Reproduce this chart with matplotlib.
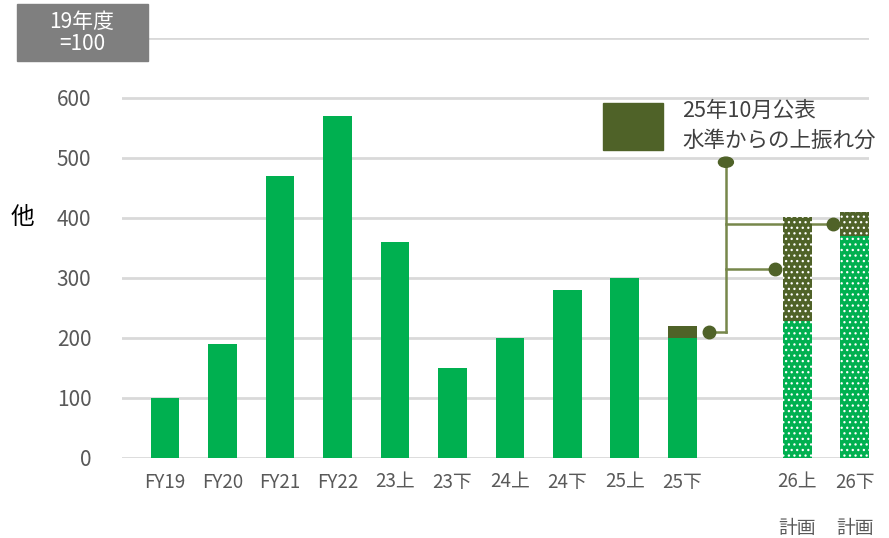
import matplotlib.pyplot as plt
from matplotlib.patches import Ellipse, Rectangle

plt.rcParams['font.family'] = ['Noto Sans CJK JP', 'DejaVu Sans']
plt.rcParams['hatch.linewidth'] = 0.9

labels = ['FY19', 'FY20', 'FY21', 'FY22', '23上', '23下', '24上', '24下', '25上', '25下', '26上', '26下']
positions = [0, 1, 2, 3, 4, 5, 6, 7, 8, 9, 11, 12]
base = [100, 190, 470, 570, 360, 150, 200, 280, 300, 200, 228, 370]
upside = [0, 0, 0, 0, 0, 0, 0, 0, 0, 20, 174, 40]
is_plan = [False] * 10 + [True, True]

green = '#00B050'
olive = '#4F6228'
line_col = '#76874B'
grey_text = '#595959'

fig = plt.figure(figsize=(8.89, 5.38), dpi=100)
ax = fig.add_axes([122 / 889, 1 - 458 / 538, 747 / 889, 420 / 538])

width = 0.5
for x, b, u, plan in zip(positions, base, upside, is_plan):
    hatch = '...' if plan else None
    ax.bar(x, b, width, color=green, hatch=hatch, edgecolor='white', linewidth=0, zorder=3)
    if u:
        ax.bar(x, u, width, bottom=b, color=olive, hatch=hatch, edgecolor='white', linewidth=0, zorder=3)

ax.set_xlim(-0.75, 12.25)
ax.set_ylim(0, 700)
ax.set_yticks(range(0, 701, 100))
ax.set_yticklabels([str(v) for v in range(0, 601, 100)] + [''])
ax.set_xticks(positions)
ax.set_xticklabels(labels)
ax.tick_params(axis='y', length=0, pad=22, labelsize=15, labelcolor=grey_text)
ax.tick_params(axis='x', length=0, pad=10, labelsize=13.5, labelcolor=grey_text)
ax.grid(axis='y', color='#D9D9D9', linewidth=2, zorder=0)
for s in ax.spines.values():
    s.set_visible(False)

# 計画 marks under the plan bars
for x, plan in zip(positions, is_plan):
    if plan:
        ax.text(x, -0.167, '計画', transform=ax.get_xaxis_transform(),
                ha='center', va='center', fontsize=13.5, color=grey_text)

# connector from the legend key to each upside segment
trunk_x = 9.76
top_y = 493
mids = []
for x, b, u in zip(positions, base, upside):
    if u:
        mid = b + u / 2
        dot_x = x + width / 2 + 0.21 if x < trunk_x else x - width / 2 - 0.13
        mids.append((dot_x, mid))
low = min(m for _, m in mids)
ax.plot([trunk_x, trunk_x], [low, top_y], color=line_col, linewidth=1.8, zorder=2, clip_on=False)
for dx, m in mids:
    ax.plot([trunk_x, dx], [m, m], color=line_col, linewidth=1.8, zorder=2)
    ax.plot(dx, m, 'o', color=olive, markersize=9, zorder=4)
ax.add_patch(Ellipse((trunk_x, top_y), 0.26, 17, color=olive, zorder=4, clip_on=False))

# legend key
fig.add_artist(Rectangle((603 / 889, 1 - 150 / 538), 60 / 889, 47 / 538,
                         transform=fig.transFigure, color=olive))
fig.text(682 / 889, 1 - 111 / 538, '25年10月公表', fontsize=15.5, color='#404040', va='center')
fig.text(682 / 889, 1 - 141 / 538, '水準からの上振れ分', fontsize=15.5, color='#404040', va='center')

# unit box
fig.add_artist(Rectangle((17 / 889, 1 - 61 / 538), 131 / 889, 57 / 538,
                         transform=fig.transFigure, color='#7F7F7F', zorder=5))
fig.text(82 / 889, 1 - 33 / 538, '19年度\n=100', fontsize=15, color='white',
         ha='center', va='center', linespacing=1.0, zorder=6)

fig.text(22 / 889, 1 - 218 / 538, '他', fontsize=17, color='black', ha='center', va='center')

fig.savefig('out.png', dpi=100)
